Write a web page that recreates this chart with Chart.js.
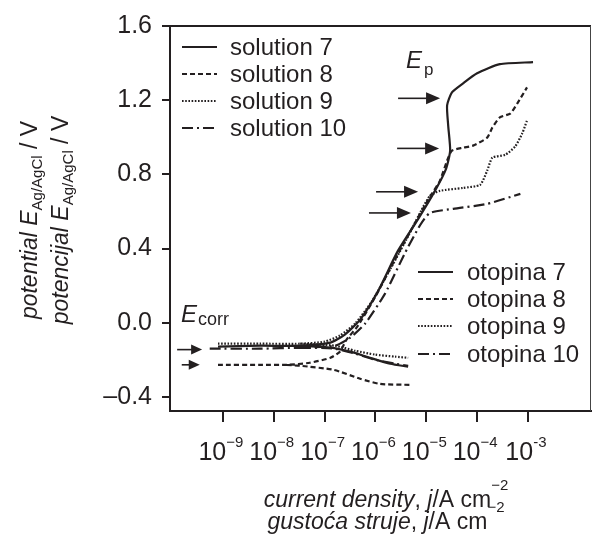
<!DOCTYPE html>
<html>
<head>
<meta charset="utf-8">
<script src="https://cdn.jsdelivr.net/npm/chart.js@4.4.1/dist/chart.umd.min.js"></script>
<style>
  body { margin: 0; background: #fff; }
  #wrap { width: 595px; height: 540px; }
</style>
</head>
<body>
<div id="wrap"><canvas id="myChart" width="595" height="540"></canvas></div>
<script>
// current density j / A cm-2 and potential E / V
const s7AnodicJ = [8.0e-10, 5.4e-9, 3.3e-8, 1.3e-7, 2.5e-7, 5.0e-7, 1.12e-6, 2.75e-6, 6.9e-6, 1.48e-5, 2.45e-5, 2.95e-5, 2.7e-5, 2.57e-5, 3.2e-5, 5.3e-5, 1.0e-4, 2.8e-4, 1.26e-3];
const s7AnodicE = [-0.129, -0.124, -0.124, -0.107, -0.064, 0.017, 0.169, 0.386, 0.559, 0.711, 0.830, 0.928, 1.063, 1.172, 1.242, 1.291, 1.345, 1.394, 1.405];
const s7CathodicJ = [3.3e-8, 1.3e-7, 3.2e-7, 7.8e-7, 1.95e-6, 4.4e-6];
const s7CathodicE = [-0.124, -0.134, -0.156, -0.189, -0.221, -0.237];

const s8AnodicJ = [8.0e-10, 5.4e-9, 1.8e-8, 5.1e-8, 1.3e-7, 2.0e-7, 2.7e-7, 4.4e-7, 9.8e-7, 2.45e-6, 6.0e-6, 1.18e-5, 1.85e-5, 2.57e-5, 3.2e-5, 5.3e-5, 8.3e-5, 1.58e-4, 2.0e-4, 2.8e-4, 4.5e-4, 6.2e-4, 9.6e-4];
const s8AnodicE = [-0.227, -0.227, -0.227, -0.216, -0.189, -0.156, -0.091, -0.021, 0.137, 0.343, 0.538, 0.679, 0.765, 0.874, 0.928, 0.944, 0.955, 0.998, 1.053, 1.107, 1.128, 1.183, 1.269];
const s8CathodicJ = [1.8e-8, 3.3e-8, 1.5e-7, 5.0e-7, 1.23e-6, 4.8e-6];
const s8CathodicE = [-0.227, -0.232, -0.254, -0.302, -0.330, -0.335];

const s9AnodicJ = [8.0e-10, 5.4e-9, 3.3e-8, 1.0e-7, 2.0e-7, 4.0e-7, 8.5e-7, 1.95e-6, 4.4e-6, 8.3e-6, 1.18e-5, 1.85e-5, 5.3e-5, 1.15e-4, 1.58e-4, 2.0e-4, 3.6e-4, 5.6e-4, 7.7e-4, 9.6e-4];
const s9AnodicE = [-0.113, -0.113, -0.113, -0.102, -0.069, -0.004, 0.115, 0.288, 0.467, 0.614, 0.684, 0.711, 0.727, 0.744, 0.820, 0.890, 0.906, 0.950, 1.020, 1.091];
const s9CathodicJ = [3.3e-8, 1.6e-7, 4.0e-7, 9.8e-7, 2.45e-6, 4.4e-6];
const s9CathodicE = [-0.113, -0.124, -0.151, -0.172, -0.183, -0.189];

const s10AnodicJ = [5.5e-10, 5.4e-9, 3.3e-8, 1.6e-7, 3.2e-7, 6.3e-7, 1.55e-6, 3.8e-6, 7.6e-6, 1.18e-5, 3.4e-5, 1.58e-4, 7.1e-4];
const s10AnodicE = [-0.140, -0.140, -0.134, -0.124, -0.080, -0.004, 0.158, 0.375, 0.527, 0.592, 0.614, 0.641, 0.695];
const s10CathodicJ = [3.3e-8, 1.6e-7, 4.0e-7, 9.8e-7, 2.45e-6, 4.4e-6];
const s10CathodicE = [-0.134, -0.140, -0.167, -0.199, -0.221, -0.232];

const labelsEn = ['solution 7', 'solution 8', 'solution 9', 'solution 10'];
const labelsHr = ['otopina 7', 'otopina 8', 'otopina 9', 'otopina 10'];

// arrows: Ep (pitting) and Ecorr marks
const epArrowJ = [1.87e-5, 1.79e-5, 6.9e-6, 5.0e-6];
const epArrowE = [1.21, 0.94, 0.706, 0.592];
const corrArrowJ = [3.9e-10, 3.5e-10];
const corrArrowE = [-0.145, -0.227];

const xTicks = [1e-9, 1e-8, 1e-7, 1e-6, 1e-5, 1e-4, 1e-3];
const xTickExp = ['\u22129', '\u22128', '\u22127', '\u22126', '\u22125', '\u22124', '-3'];
const yTicks = [-0.4, 0, 0.4, 0.8, 1.2, 1.6];

const ink = '#231f20';
const FONT = '"Liberation Sans", Arial, sans-serif';
const font = (size, italic) => (italic ? 'italic ' : '') + size + 'px ' + FONT;

function branch(j, E) {
    return j.map((v, i) => ({ x: v, y: E[i] }));
}
function curve(aj, aE, cj, cE) {
    // null point breaks the line between the two branches
    return [...branch(aj, aE), { x: cj[0], y: null }, ...branch(cj, cE)];
}

const styles = [
    { borderDash: [], borderWidth: 2.2 },
    { borderDash: [5, 3], borderWidth: 2.2 },
    { borderDash: [1.6, 1.6], borderWidth: 2.2 },
    { borderDash: [11, 4, 2, 4], borderWidth: 2.2 }
];

const curves = [
    curve(s7AnodicJ, s7AnodicE, s7CathodicJ, s7CathodicE),
    curve(s8AnodicJ, s8AnodicE, s8CathodicJ, s8CathodicE),
    curve(s9AnodicJ, s9AnodicE, s9CathodicJ, s9CathodicE),
    curve(s10AnodicJ, s10AnodicE, s10CathodicJ, s10CathodicE)
];

// draw a run of text pieces (italic / sub / sup) centred on cx
function rich(ctx, pieces, cx, base) {
    let w = 0;
    pieces.forEach(p => { ctx.font = font(p.size, p.italic); w += ctx.measureText(p.t).width; });
    let x = cx - w / 2;
    ctx.textAlign = 'left';
    ctx.textBaseline = 'alphabetic';
    pieces.forEach(p => {
        ctx.font = font(p.size, p.italic);
        ctx.fillText(p.t, x, base + (p.dy || 0));
        x += ctx.measureText(p.t).width;
    });
}

function arrow(ctx, tx, ty, len, headLen, headW) {
    ctx.beginPath();
    ctx.moveTo(tx - len, ty);
    ctx.lineTo(tx - headLen + 1, ty);
    ctx.lineWidth = 1.6;
    ctx.stroke();
    ctx.beginPath();
    ctx.moveTo(tx, ty);
    ctx.lineTo(tx - headLen, ty - headW);
    ctx.lineTo(tx - headLen, ty + headW);
    ctx.closePath();
    ctx.fill();
}

const overlay = {
    id: 'overlay',
    afterDraw(chart) {
        const { ctx, chartArea: a, scales: { x, y } } = chart;
        ctx.save();
        ctx.strokeStyle = ink;
        ctx.fillStyle = ink;

        // top and right of the frame
        ctx.lineWidth = 2;
        ctx.beginPath();
        ctx.moveTo(a.left - 1, a.top);
        ctx.lineTo(a.right, a.top);
        ctx.stroke();
        ctx.lineWidth = 1;
        ctx.strokeStyle = '#444';
        ctx.beginPath();
        ctx.moveTo(a.right - 0.5, a.top);
        ctx.lineTo(a.right - 0.5, a.bottom);
        ctx.stroke();
        ctx.strokeStyle = ink;

        // x tick labels 10^n
        xTicks.forEach((v, i) => {
            const px = x.getPixelForValue(v);
            rich(ctx, [
                { t: '10', size: 25 },
                { t: xTickExp[i], size: 15, dy: -13 }
            ], px - 2, 460);
        });

        // axis titles
        const sup = { size: 15, dy: -17 };
        rich(ctx, [
            { t: 'current density', size: 23, italic: true },
            { t: ', ', size: 23 },
            { t: 'j', size: 23, italic: true },
            { t: '/A cm', size: 23 },
            Object.assign({ t: '\u22122' }, sup)
        ], 386, 507);
        rich(ctx, [
            { t: 'gusto\u0107a struje', size: 23, italic: true },
            { t: ', ', size: 23 },
            { t: 'j', size: 23, italic: true },
            { t: '/A cm', size: 23 },
            Object.assign({ t: '\u22122' }, sup)
        ], 386, 529);

        ctx.save();
        ctx.translate(0, 220);
        ctx.rotate(-Math.PI / 2);
        rich(ctx, [
            { t: 'potential ', size: 23, italic: true },
            { t: 'E', size: 23, italic: true },
            { t: 'Ag/AgCl', size: 15, dy: 5 },
            { t: ' / V', size: 23 }
        ], 0, 37);
        rich(ctx, [
            { t: 'potencijal ', size: 23, italic: true },
            { t: 'E', size: 23, italic: true },
            { t: 'Ag/AgCl', size: 15, dy: 5 },
            { t: ' / V', size: 23 }
        ], 0, 68);
        ctx.restore();

        // legends
        const drawLegend = (labels, x1, x2, tx, rows) => {
            labels.forEach((lab, i) => {
                const ds = chart.data.datasets[i];
                ctx.save();
                ctx.lineWidth = ds.borderWidth;
                ctx.setLineDash(ds.borderDash);
                ctx.beginPath();
                ctx.moveTo(x1, rows[i]);
                ctx.lineTo(x2, rows[i]);
                ctx.stroke();
                ctx.restore();
                ctx.font = font(24, false);
                ctx.textAlign = 'left';
                ctx.textBaseline = 'middle';
                ctx.fillText(lab, tx, rows[i] + 1);
            });
        };
        drawLegend(labelsEn, 182, 217, 230, [47, 74, 101, 128]);
        drawLegend(labelsHr, 418, 453, 467, [272, 299, 326, 354]);

        // arrows
        epArrowJ.forEach((j, i) => {
            arrow(ctx, x.getPixelForValue(j), y.getPixelForValue(epArrowE[i]), 42, 14, 6);
        });
        corrArrowJ.forEach((j, i) => {
            arrow(ctx, x.getPixelForValue(j), y.getPixelForValue(corrArrowE[i]), i === 0 ? 25 : 18, 11, 5);
        });

        // Ep, Ecorr labels
        ctx.textAlign = 'left';
        ctx.textBaseline = 'alphabetic';
        ctx.font = font(24, true);
        ctx.fillText('E', 406, 68);
        ctx.font = font(17, false);
        ctx.fillText('p', 424, 75);
        ctx.font = font(24, true);
        ctx.fillText('E', 181, 322);
        ctx.font = font(18, false);
        ctx.fillText('corr', 198, 325);

        ctx.restore();
    }
};

const ctx = document.getElementById('myChart').getContext('2d');
new Chart(ctx, {
    type: 'scatter',
    data: {
        datasets: curves.map((pts, i) => ({
            label: labelsEn[i],
            data: pts,
            showLine: true,
            spanGaps: false,
            borderColor: ink,
            borderWidth: styles[i].borderWidth,
            borderDash: styles[i].borderDash,
            pointRadius: 0,
            tension: 0.2,
            fill: false
        }))
    },
    options: {
        responsive: false,
        animation: false,
        layout: { padding: { top: 26, right: 4, left: 0, bottom: 0 } },
        scales: {
            x: {
                type: 'logarithmic',
                min: 9.1e-11,
                max: 1.74e-2,
                afterBuildTicks: s => { s.ticks = xTicks.map(v => ({ value: v })); },
                afterFit: s => { s.height = 129; },
                ticks: { display: false },
                grid: { drawOnChartArea: false, drawTicks: true, tickLength: 11, color: ink, lineWidth: 2 },
                border: { display: true, color: ink, width: 2 }
            },
            y: {
                min: -0.476,
                max: 1.6,
                afterBuildTicks: s => { s.ticks = yTicks.map(v => ({ value: v })); },
                afterFit: s => { s.width = 170; },
                ticks: {
                    color: ink,
                    padding: 10,
                    font: { family: FONT, size: 25 },
                    callback: v => (v < 0 ? '\u2013' : '') + Math.abs(v).toFixed(1)
                },
                grid: { drawOnChartArea: false, drawTicks: true, tickLength: 8, color: ink, lineWidth: 2 },
                border: { display: true, color: ink, width: 2 }
            }
        },
        plugins: {
            legend: { display: false },
            tooltip: { enabled: false }
        }
    },
    plugins: [overlay]
});
</script>
</body>
</html>
